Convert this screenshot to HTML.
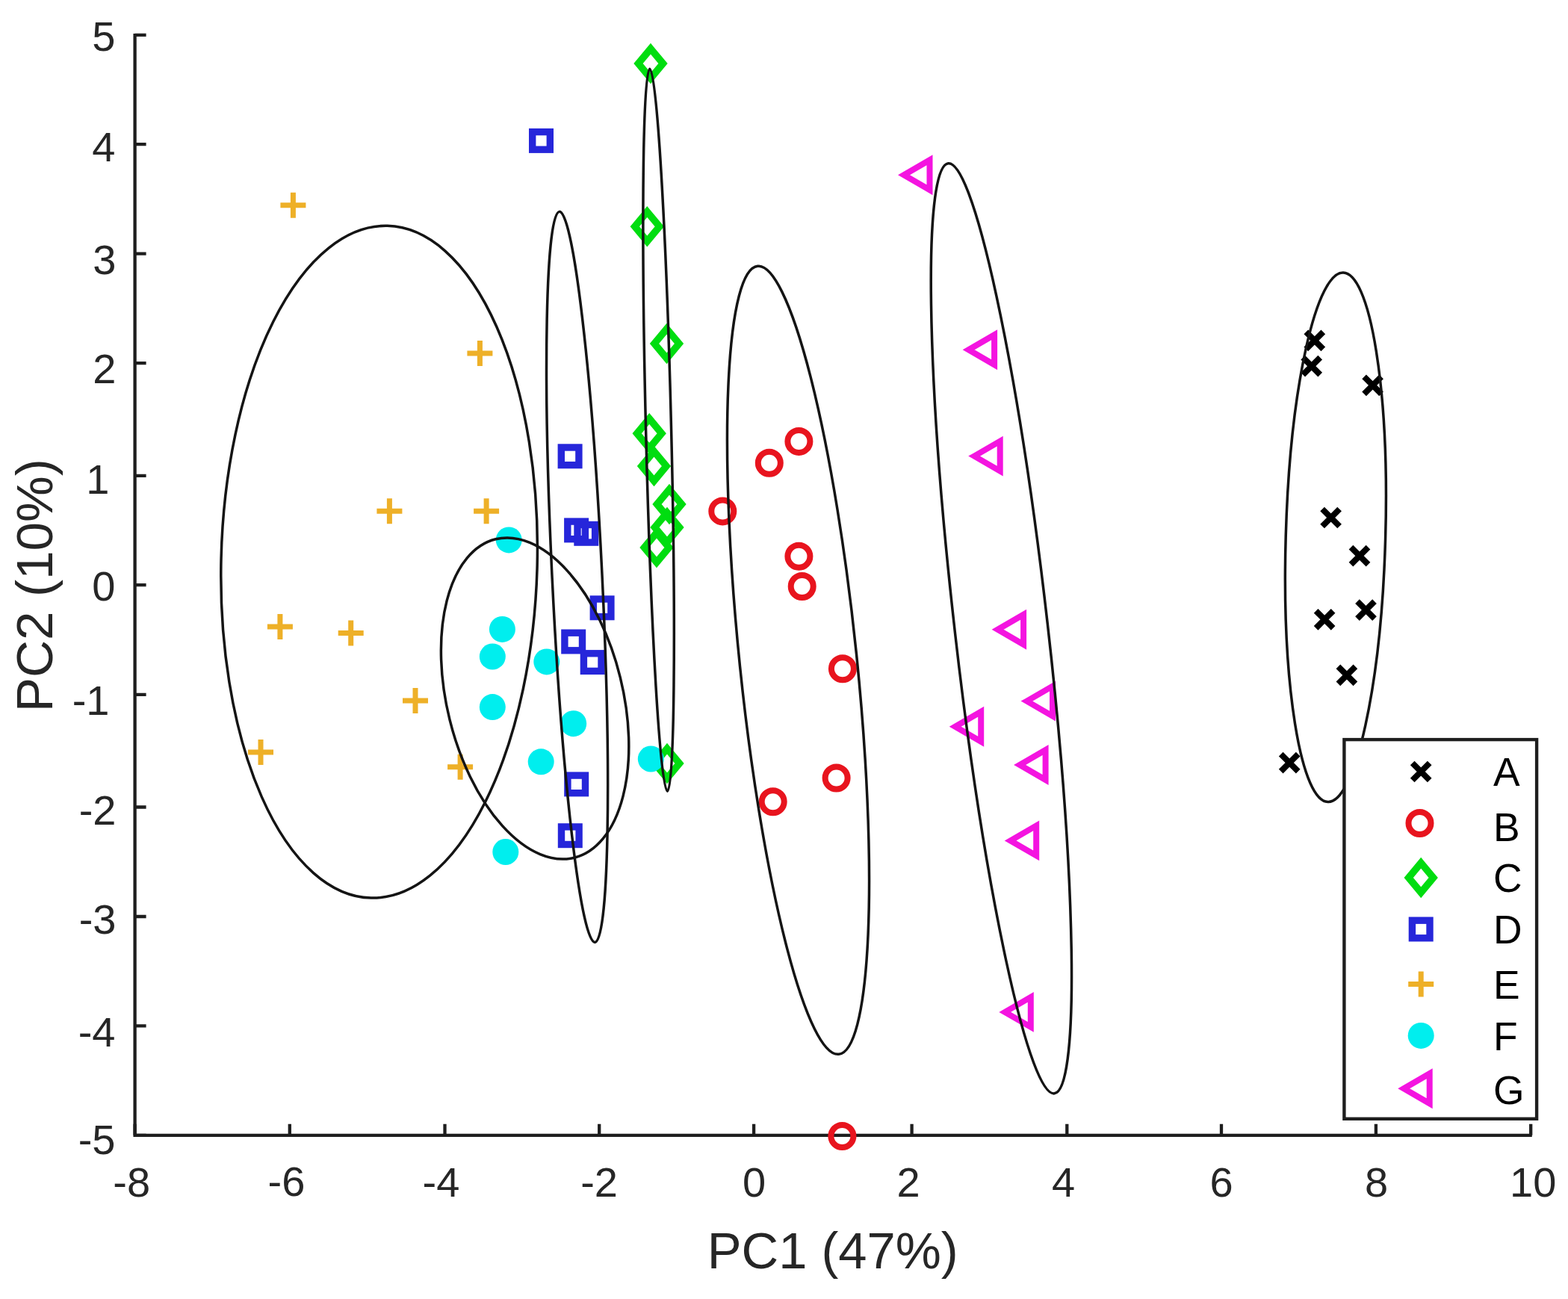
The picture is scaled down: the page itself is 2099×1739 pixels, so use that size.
<!DOCTYPE html>
<html><head><meta charset="utf-8"><title>PCA plot</title>
<style>html,body{margin:0;padding:0;background:#fff;}svg{display:block;}</style></head>
<body>
<svg width="2099" height="1739" viewBox="0 0 2099 1739">
<rect width="2099" height="1739" fill="#fff"/>
<path d="M180.6 44.9V1519.8H2050.8" fill="none" stroke="#1e1e1e" stroke-width="4.3" stroke-linejoin="miter"/>
<path d="M180.6 1519.8V1504.8M387.8 1519.8V1504.8M595.5 1519.8V1504.8M802.2 1519.8V1504.8M1009.1 1519.8V1504.8M1220.6 1519.8V1504.8M1428.3 1519.8V1504.8M1635 1519.8V1504.8M1841.9 1519.8V1504.8M2049.2 1519.8V1504.8M180.6 46.9H195.6M180.6 193.1H195.6M180.6 339.6H195.6M180.6 486.1H195.6M180.6 636.8H195.6M180.6 783.2H195.6M180.6 929.8H195.6M180.6 1080.5H195.6M180.6 1227H195.6M180.6 1373.4H195.6M180.6 1519.8H195.6" stroke="#1e1e1e" stroke-width="4.3" fill="none"/>
<path d="M1748.3 444.3L1771.3 467.3M1771.3 444.3L1748.3 467.3" stroke="#000" stroke-width="8" fill="none"/>
<path d="M1744.2 478.6L1767.2 501.6M1767.2 478.6L1744.2 501.6" stroke="#000" stroke-width="8" fill="none"/>
<path d="M1826.1 504.3L1849.1 527.3M1849.1 504.3L1826.1 527.3" stroke="#000" stroke-width="8" fill="none"/>
<path d="M1770.1 681.5L1793.1 704.5M1793.1 681.5L1770.1 704.5" stroke="#000" stroke-width="8" fill="none"/>
<path d="M1808.5 732.6L1831.5 755.6M1831.5 732.6L1808.5 755.6" stroke="#000" stroke-width="8" fill="none"/>
<path d="M1817.0 805.1L1840.0 828.1M1840.0 805.1L1817.0 828.1" stroke="#000" stroke-width="8" fill="none"/>
<path d="M1761.6 817.8L1784.6 840.8M1784.6 817.8L1761.6 840.8" stroke="#000" stroke-width="8" fill="none"/>
<path d="M1791.4 892.4L1814.4 915.4M1814.4 892.4L1791.4 915.4" stroke="#000" stroke-width="8" fill="none"/>
<path d="M1714.7 1009.6L1737.7 1032.6M1737.7 1009.6L1714.7 1032.6" stroke="#000" stroke-width="8" fill="none"/>
<circle cx="1069.4" cy="590.9" r="15" fill="none" stroke="#e8141e" stroke-width="8"/>
<circle cx="1029.8" cy="619.7" r="15" fill="none" stroke="#e8141e" stroke-width="8"/>
<circle cx="967.3" cy="684.4" r="15" fill="none" stroke="#e8141e" stroke-width="8"/>
<circle cx="1069.4" cy="744.7" r="15" fill="none" stroke="#e8141e" stroke-width="8"/>
<circle cx="1073.7" cy="785.0" r="15" fill="none" stroke="#e8141e" stroke-width="8"/>
<circle cx="1127.9" cy="895.2" r="15" fill="none" stroke="#e8141e" stroke-width="8"/>
<circle cx="1119.6" cy="1041.5" r="15" fill="none" stroke="#e8141e" stroke-width="8"/>
<circle cx="1034.7" cy="1073.3" r="15" fill="none" stroke="#e8141e" stroke-width="8"/>
<circle cx="1127.4" cy="1521.0" r="15" fill="none" stroke="#e8141e" stroke-width="8"/>
<path d="M871.0 65.2L887.5 85.0L871.0 104.8L854.5 85.0Z" fill="none" stroke="#00dd10" stroke-width="9.5" stroke-linejoin="miter"/>
<path d="M866.3 283.5L882.8 303.3L866.3 323.1L849.8 303.3Z" fill="none" stroke="#00dd10" stroke-width="9.5" stroke-linejoin="miter"/>
<path d="M892.5 440.2L909.0 460.0L892.5 479.8L876.0 460.0Z" fill="none" stroke="#00dd10" stroke-width="9.5" stroke-linejoin="miter"/>
<path d="M869.2 560.4L885.7 580.2L869.2 600.0L852.7 580.2Z" fill="none" stroke="#00dd10" stroke-width="9.5" stroke-linejoin="miter"/>
<path d="M875.5 604.2L892.0 624.0L875.5 643.8L859.0 624.0Z" fill="none" stroke="#00dd10" stroke-width="9.5" stroke-linejoin="miter"/>
<path d="M896.0 655.2L912.5 675.0L896.0 694.8L879.5 675.0Z" fill="none" stroke="#00dd10" stroke-width="9.5" stroke-linejoin="miter"/>
<path d="M893.0 686.2L909.5 706.0L893.0 725.8L876.5 706.0Z" fill="none" stroke="#00dd10" stroke-width="9.5" stroke-linejoin="miter"/>
<path d="M879.0 713.2L895.5 733.0L879.0 752.8L862.5 733.0Z" fill="none" stroke="#00dd10" stroke-width="9.5" stroke-linejoin="miter"/>
<path d="M893.0 1002.2L909.5 1022.0L893.0 1041.8L876.5 1022.0Z" fill="none" stroke="#00dd10" stroke-width="9.5" stroke-linejoin="miter"/>
<rect x="712.7" y="176.6" width="23.6" height="23.6" fill="none" stroke="#2626da" stroke-width="9.4"/>
<rect x="751.3" y="599.0" width="23.6" height="23.6" fill="none" stroke="#2626da" stroke-width="9.4"/>
<rect x="759.8" y="698.1" width="23.6" height="23.6" fill="none" stroke="#2626da" stroke-width="9.4"/>
<rect x="773.0" y="702.5" width="23.6" height="23.6" fill="none" stroke="#2626da" stroke-width="9.4"/>
<rect x="794.3" y="802.0" width="23.6" height="23.6" fill="none" stroke="#2626da" stroke-width="9.4"/>
<rect x="755.9" y="847.2" width="23.6" height="23.6" fill="none" stroke="#2626da" stroke-width="9.4"/>
<rect x="781.4" y="874.8" width="23.6" height="23.6" fill="none" stroke="#2626da" stroke-width="9.4"/>
<rect x="759.9" y="1038.1" width="23.6" height="23.6" fill="none" stroke="#2626da" stroke-width="9.4"/>
<rect x="751.5" y="1106.9" width="23.6" height="23.6" fill="none" stroke="#2626da" stroke-width="9.4"/>
<path d="M375.4 274.8H409.4M392.4 257.8V291.8" stroke="#eeb028" stroke-width="7" fill="none"/>
<path d="M625.4 473.1H659.4M642.4 456.1V490.1" stroke="#eeb028" stroke-width="7" fill="none"/>
<path d="M504.4 684.2H538.4M521.4 667.2V701.2" stroke="#eeb028" stroke-width="7" fill="none"/>
<path d="M634.1 684.2H668.1M651.1 667.2V701.2" stroke="#eeb028" stroke-width="7" fill="none"/>
<path d="M357.9 838.9H391.9M374.9 821.9V855.9" stroke="#eeb028" stroke-width="7" fill="none"/>
<path d="M452.7 847.6H486.7M469.7 830.6V864.6" stroke="#eeb028" stroke-width="7" fill="none"/>
<path d="M539.0 938.0H573.0M556.0 921.0V955.0" stroke="#eeb028" stroke-width="7" fill="none"/>
<path d="M332.0 1007.0H366.0M349.0 990.0V1024.0" stroke="#eeb028" stroke-width="7" fill="none"/>
<path d="M599.1 1026.7H633.1M616.1 1009.7V1043.7" stroke="#eeb028" stroke-width="7" fill="none"/>
<circle cx="681.2" cy="722.9" r="17.5" fill="#00eeee"/>
<circle cx="672.4" cy="842.4" r="17.5" fill="#00eeee"/>
<circle cx="659.3" cy="879.0" r="17.5" fill="#00eeee"/>
<circle cx="731.8" cy="885.9" r="17.5" fill="#00eeee"/>
<circle cx="659.3" cy="946.6" r="17.5" fill="#00eeee"/>
<circle cx="767.7" cy="968.7" r="17.5" fill="#00eeee"/>
<circle cx="724.2" cy="1019.8" r="17.5" fill="#00eeee"/>
<circle cx="871.3" cy="1016.0" r="17.5" fill="#00eeee"/>
<circle cx="676.8" cy="1140.5" r="17.5" fill="#00eeee"/>
<path d="M1210.0 234.2L1244.5 214.2L1244.5 254.2Z" fill="none" stroke="#f414e0" stroke-width="8" stroke-linejoin="miter"/>
<path d="M1296.6 468.3L1331.1 448.3L1331.1 488.3Z" fill="none" stroke="#f414e0" stroke-width="8" stroke-linejoin="miter"/>
<path d="M1304.2 610.6L1338.7 590.6L1338.7 630.6Z" fill="none" stroke="#f414e0" stroke-width="8" stroke-linejoin="miter"/>
<path d="M1335.6 842.8L1370.1 822.8L1370.1 862.8Z" fill="none" stroke="#f414e0" stroke-width="8" stroke-linejoin="miter"/>
<path d="M1374.5 938.6L1409.0 918.6L1409.0 958.6Z" fill="none" stroke="#f414e0" stroke-width="8" stroke-linejoin="miter"/>
<path d="M1278.7 972.7L1313.2 952.7L1313.2 992.7Z" fill="none" stroke="#f414e0" stroke-width="8" stroke-linejoin="miter"/>
<path d="M1365.1 1024.0L1399.6 1004.0L1399.6 1044.0Z" fill="none" stroke="#f414e0" stroke-width="8" stroke-linejoin="miter"/>
<path d="M1352.7 1125.4L1387.2 1105.4L1387.2 1145.4Z" fill="none" stroke="#f414e0" stroke-width="8" stroke-linejoin="miter"/>
<path d="M1345.3 1354.9L1379.8 1334.9L1379.8 1374.9Z" fill="none" stroke="#f414e0" stroke-width="8" stroke-linejoin="miter"/>
<ellipse cx="507.6" cy="752.2" rx="450.0" ry="211.6" transform="rotate(-88.60 507.6 752.2)" fill="none" stroke="#141414" stroke-width="3.5"/>
<ellipse cx="716.1" cy="935.0" rx="219.6" ry="117.6" transform="rotate(-103.86 716.1 935.0)" fill="none" stroke="#141414" stroke-width="3.5"/>
<ellipse cx="772.6" cy="772.4" rx="489.6" ry="33.5" transform="rotate(-92.78 772.6 772.4)" fill="none" stroke="#141414" stroke-width="3.5"/>
<ellipse cx="881.6" cy="575.8" rx="483.7" ry="17.0" transform="rotate(-91.40 881.6 575.8)" fill="none" stroke="#141414" stroke-width="3.5"/>
<ellipse cx="1068.5" cy="883.8" rx="530.3" ry="78.4" transform="rotate(-95.88 1068.5 883.8)" fill="none" stroke="#141414" stroke-width="3.5"/>
<ellipse cx="1340.4" cy="841.3" rx="626.6" ry="62.2" transform="rotate(-96.51 1340.4 841.3)" fill="none" stroke="#141414" stroke-width="3.5"/>
<ellipse cx="1787.9" cy="719.3" rx="354.4" ry="66.7" transform="rotate(-88.34 1787.9 719.3)" fill="none" stroke="#141414" stroke-width="3.5"/>
<g font-family="'Liberation Sans', Arial, Helvetica, sans-serif" font-size="56" fill="#262626">
<text x="176.2" y="1602.0" text-anchor="middle">-8</text>
<text x="383.5" y="1601.0" text-anchor="middle">-6</text>
<text x="590.4" y="1602.0" text-anchor="middle">-4</text>
<text x="802.1" y="1602.0" text-anchor="middle">-2</text>
<text x="1009.5" y="1602.0" text-anchor="middle">0</text>
<text x="1216.1" y="1602.0" text-anchor="middle">2</text>
<text x="1423.6" y="1602.0" text-anchor="middle">4</text>
<text x="1635.1" y="1601.5" text-anchor="middle">6</text>
<text x="1842.5" y="1602.0" text-anchor="middle">8</text>
<text x="2052.2" y="1602.0" text-anchor="middle">10</text>
<text x="154.5" y="68.0" text-anchor="end">5</text>
<text x="154.5" y="216.2" text-anchor="end">4</text>
<text x="155.5" y="367.1" text-anchor="end">3</text>
<text x="155.5" y="512.9" text-anchor="end">2</text>
<text x="146.5" y="660.6" text-anchor="end">1</text>
<text x="154.5" y="804.0" text-anchor="end">0</text>
<text x="146.5" y="957.2" text-anchor="end">-1</text>
<text x="155.5" y="1103.8" text-anchor="end">-2</text>
<text x="155.5" y="1249.7" text-anchor="end">-3</text>
<text x="154.5" y="1400.9" text-anchor="end">-4</text>
<text x="154.5" y="1545.0" text-anchor="end">-5</text>
</g>
<text x="1114.7" y="1698.4" text-anchor="middle" font-family="'Liberation Sans', Arial, Helvetica, sans-serif" font-size="69" fill="#262626" textLength="336" lengthAdjust="spacingAndGlyphs">PC1 (47%)</text>
<text transform="translate(70.4 783.7) rotate(-90)" text-anchor="middle" font-family="'Liberation Sans', Arial, Helvetica, sans-serif" font-size="69" fill="#262626" textLength="339" lengthAdjust="spacingAndGlyphs">PC2 (10%)</text>
<rect x="1799.4" y="990.1" width="257.7" height="507.7" fill="#fff" stroke="#1e1e1e" stroke-width="4.4"/>
<path d="M1890.7 1021.5L1913.7 1044.5M1913.7 1021.5L1890.7 1044.5" stroke="#000" stroke-width="8" fill="none"/>
<text x="1999" y="1052.3" font-family="'Liberation Sans', Arial, Helvetica, sans-serif" font-size="53.4" fill="#000">A</text>
<circle cx="1900.5" cy="1102.0" r="15" fill="none" stroke="#e8141e" stroke-width="8"/>
<text x="1999" y="1125.6" font-family="'Liberation Sans', Arial, Helvetica, sans-serif" font-size="53.4" fill="#000">B</text>
<path d="M1902.2 1155.2L1918.7 1175.0L1902.2 1194.8L1885.7 1175.0Z" fill="none" stroke="#00dd10" stroke-width="9.5" stroke-linejoin="miter"/>
<text x="1999" y="1193.6" font-family="'Liberation Sans', Arial, Helvetica, sans-serif" font-size="53.4" fill="#000">C</text>
<rect x="1890.4" y="1232.2" width="23.6" height="23.6" fill="none" stroke="#2626da" stroke-width="9.4"/>
<text x="1999" y="1263.2" font-family="'Liberation Sans', Arial, Helvetica, sans-serif" font-size="53.4" fill="#000">D</text>
<path d="M1885.2 1317.5H1919.2M1902.2 1300.5V1334.5" stroke="#eeb028" stroke-width="7" fill="none"/>
<text x="1999" y="1336.6" font-family="'Liberation Sans', Arial, Helvetica, sans-serif" font-size="53.4" fill="#000">E</text>
<circle cx="1902.2" cy="1386.4" r="17.5" fill="#00eeee"/>
<text x="1999" y="1405.5" font-family="'Liberation Sans', Arial, Helvetica, sans-serif" font-size="53.4" fill="#000">F</text>
<path d="M1879.2 1457.3L1913.7 1437.3L1913.7 1477.3Z" fill="none" stroke="#f414e0" stroke-width="8" stroke-linejoin="miter"/>
<text x="1999" y="1478.0" font-family="'Liberation Sans', Arial, Helvetica, sans-serif" font-size="53.4" fill="#000">G</text>
</svg>
</body></html>
